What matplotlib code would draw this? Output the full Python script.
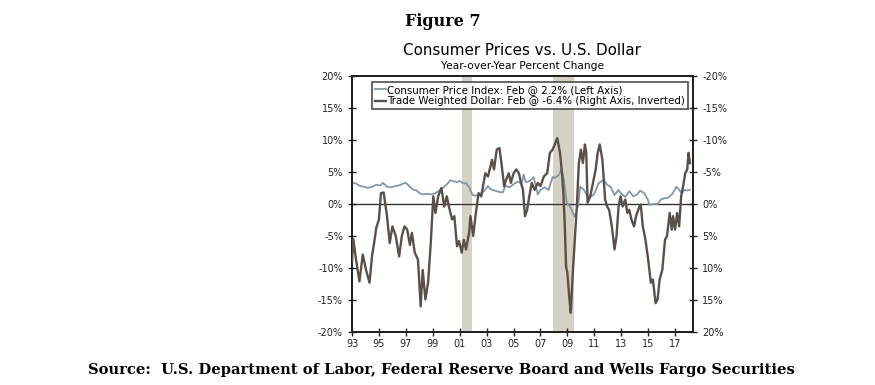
import numpy as np
import matplotlib
matplotlib.use("Agg")
import matplotlib.pyplot as plt

# CPI yoy (left axis)
cpi_dates = [1993.0, 1993.3, 1993.6, 1993.9, 1994.2, 1994.5, 1994.8, 1995.1, 1995.3, 1995.6,
             1995.9, 1996.2, 1996.5, 1996.8, 1997.0, 1997.2, 1997.5, 1997.8, 1998.0, 1998.3,
             1998.6, 1998.9, 1999.2, 1999.5, 1999.8, 2000.1, 2000.3, 2000.5, 2000.8, 2001.0,
             2001.2, 2001.5, 2001.7, 2001.95, 2002.2, 2002.5, 2002.8, 2003.1, 2003.3, 2003.6,
             2003.9, 2004.2, 2004.4, 2004.7, 2005.0, 2005.3, 2005.6, 2005.75, 2005.9, 2006.2,
             2006.5, 2006.8, 2007.0, 2007.3, 2007.6, 2007.9, 2008.1, 2008.4, 2008.55, 2008.75,
             2008.95, 2009.2, 2009.55, 2009.8, 2009.95, 2010.2, 2010.5, 2010.8, 2011.0, 2011.3,
             2011.7, 2011.95, 2012.2, 2012.5, 2012.8, 2013.0, 2013.3, 2013.6, 2013.9, 2014.2,
             2014.4, 2014.7, 2014.95, 2015.1, 2015.4, 2015.7, 2015.95, 2016.2, 2016.5, 2016.8,
             2017.1, 2017.3, 2017.5, 2017.7, 2017.9, 2018.1]
cpi_vals = [3.3, 3.2, 2.8, 2.7, 2.5, 2.7, 3.0, 2.9, 3.3, 2.7,
            2.6, 2.8, 2.9, 3.2, 3.3, 2.9, 2.3, 2.1, 1.7, 1.5,
            1.6, 1.5, 1.7, 2.1, 2.6, 3.2, 3.7, 3.6, 3.4, 3.6,
            3.3, 3.2, 2.6, 1.4, 1.3, 1.5, 2.0, 2.8, 2.3, 2.1,
            1.9, 1.8, 2.9, 2.6, 3.1, 3.5, 3.2, 4.6, 3.4, 3.6,
            4.2, 1.5, 2.2, 2.6, 2.2, 4.2, 4.1, 4.6, 5.5, 3.7,
            0.1, -0.4, -2.0, -0.2, 2.7, 2.3, 1.2, 1.2, 1.6, 3.2,
            3.8, 3.0, 2.7, 1.4, 2.2, 1.6, 1.1, 2.0, 1.2, 1.5,
            2.1, 1.7, 0.8, -0.1, 0.0, 0.0, 0.7, 0.9, 1.0, 1.6,
            2.7, 2.2, 1.7, 2.2, 2.1, 2.2]

# trade weighted dollar yoy (right axis, inverted)
usd_dates = [1993.0, 1993.1, 1993.3, 1993.55, 1993.8, 1994.04, 1994.3, 1994.5, 1994.65, 1994.8,
             1995.0, 1995.15, 1995.35, 1995.6, 1995.8, 1996.0, 1996.25, 1996.5, 1996.7, 1996.9,
             1997.1, 1997.3, 1997.45, 1997.66, 1997.9, 1998.1, 1998.25, 1998.45, 1998.65, 1998.85,
             1999.04, 1999.2, 1999.4, 1999.64, 1999.85, 2000.04, 2000.2, 2000.43, 2000.6, 2000.8,
             2000.95, 2001.15, 2001.3, 2001.47, 2001.7, 2001.8, 2002.0, 2002.2, 2002.4, 2002.6,
             2002.9, 2003.1, 2003.4, 2003.55, 2003.75, 2003.95, 2004.1, 2004.3, 2004.45, 2004.64,
             2004.8, 2005.0, 2005.2, 2005.4, 2005.55, 2005.7, 2005.85, 2006.0, 2006.17, 2006.35,
             2006.57, 2006.8, 2007.0, 2007.25, 2007.5, 2007.7, 2007.9, 2008.1, 2008.25, 2008.45,
             2008.6, 2008.7, 2008.8, 2008.9, 2009.0, 2009.15, 2009.25, 2009.4, 2009.55, 2009.7,
             2009.85, 2010.0, 2010.15, 2010.3, 2010.4, 2010.5, 2010.7, 2010.9, 2011.1, 2011.25,
             2011.4, 2011.6, 2011.8, 2011.95, 2012.1, 2012.3, 2012.5, 2012.65, 2012.8, 2012.95,
             2013.1, 2013.3, 2013.45, 2013.6, 2013.75, 2013.95, 2014.1, 2014.35, 2014.45, 2014.6,
             2014.8, 2015.0, 2015.2, 2015.35, 2015.55, 2015.7, 2015.85, 2016.05, 2016.25, 2016.4,
             2016.6, 2016.75, 2016.85, 2017.0, 2017.15, 2017.3, 2017.45, 2017.6, 2017.75, 2017.9,
             2018.0, 2018.1]
usd_vals = [9.0, 5.5, 8.7, 12.1, 7.9, 10.3, 12.3, 7.9, 6.0, 3.75,
            2.4, -1.7, -1.8, 1.9, 6.1, 3.5, 5.0, 8.2, 5.0, 3.5,
            4.0, 6.4, 4.5, 7.6, 8.7, 16.0, 10.3, 14.9, 12.3, 6.1,
            -1.2, 1.4, -1.2, -2.5, 0.4, -1.2, 0.4, 2.4, 1.9, 6.6,
            5.8, 7.6, 5.6, 7.1, 4.5, 1.9, 5.0, 1.4, -1.7, -1.2,
            -4.8, -4.3, -6.9, -5.4, -8.5, -8.75, -6.4, -2.8, -3.8, -4.8,
            -3.3, -4.8, -5.4, -4.8, -3.3, -2.2, 1.9, 1.0, -1.2, -3.3,
            -2.2, -3.3, -2.8, -4.3, -4.8, -8.0, -8.5, -9.5, -10.3, -8.0,
            -4.8, -1.7, 3.0, 9.7, 10.8, 14.9, 17.0, 10.8, 5.6, 0.4,
            -6.4, -8.5, -6.4, -9.3, -8.0, -0.2, -1.2, -3.3, -5.4, -8.0,
            -9.3, -6.9, -0.7, 0.4, 0.9, 3.5, 7.1, 5.0, 0.4, -1.2,
            0.4, -0.7, 1.4, 0.9, 2.4, 3.5, 1.9, 0.4, 0.1, 3.5,
            5.6, 8.7, 12.3, 11.8, 15.5, 14.9, 11.8, 10.3, 5.6, 5.0,
            1.4, 4.0, 1.9, 4.0, 1.4, 3.5, -1.2, -2.8, -4.8, -5.4,
            -8.0, -6.4]

# recessions
rec_start = [2001.17, 2007.92]
rec_end = [2001.9, 2009.5]

years = [1993, 1995, 1997, 1999, 2001, 2003, 2005, 2007, 2009, 2011, 2013, 2015, 2017]
pct_ticks = [-20, -15, -10, -5, 0, 5, 10, 15, 20]

cpi_color = "#8096aa"
usd_color = "#5b5047"
shade = "#d5d1c4"

fig = plt.figure(figsize=(8.75, 3.85), dpi=100)
ax = fig.add_axes([0.4023, 0.1377, 0.3897, 0.6649])

# shading + zero line + CPI on the left axes (drawn below)
for s, e in zip(rec_start, rec_end):
    ax.axvspan(s, e, color=shade, lw=0, zorder=0)
ax.axhline(0, color="#333333", lw=1.0, zorder=1)
l1, = ax.plot(cpi_dates, cpi_vals, color=cpi_color, lw=1.3, zorder=3)
ax.set_xlim(1993.0, 2018.33)
ax.set_ylim(-20, 20)
ax.set_yticks(pct_ticks)
ax.set_yticklabels(["%d%%" % v for v in pct_ticks])
ax.set_xticks(years)
ax.set_xticklabels(["%02d" % (y % 100) for y in years])

# dollar on the twin, inverted
ax2 = ax.twinx()
l2, = ax2.plot(usd_dates, usd_vals, color=usd_color, lw=1.7, zorder=4)
ax2.set_ylim(20, -20)
ax2.set_yticks(pct_ticks)
ax2.set_yticklabels(["%d%%" % v for v in pct_ticks])

for a in (ax, ax2):
    for sp in a.spines.values():
        sp.set_linewidth(1.3)
        sp.set_color("#222222")
    a.tick_params(direction="inout", length=6, width=1, labelsize=7, colors="#222222")
ax.tick_params(axis="x", pad=2)

leg = ax2.legend([l1, l2],
                 ["Consumer Price Index: Feb @ 2.2% (Left Axis)",
                  "Trade Weighted Dollar: Feb @ -6.4% (Right Axis, Inverted)"],
                 loc="upper left", bbox_to_anchor=(0.058, 0.978), fontsize=7.4,
                 frameon=True, fancybox=False, handlelength=1.1, handletextpad=0.1,
                 borderpad=0.3, labelspacing=0.15, borderaxespad=0)
leg.get_frame().set_edgecolor("#333333")
leg.get_frame().set_linewidth(1.3)
leg.set_zorder(10)

fig.text(0.506, 0.945, "Figure 7", ha="center", va="center", fontsize=11.5,
         fontweight="bold", family="DejaVu Serif")
fig.text(0.597, 0.868, "Consumer Prices vs. U.S. Dollar", ha="center", va="center",
         fontsize=10.9)
fig.text(0.597, 0.828, "Year-over-Year Percent Change", ha="center", va="center",
         fontsize=7.7)
fig.text(0.504, 0.04, "Source:  U.S. Department of Labor, Federal Reserve Board and Wells Fargo Securities",
         ha="center", va="center", fontsize=10.6, fontweight="bold", family="DejaVu Serif")

fig.savefig("out.png", dpi=100)
